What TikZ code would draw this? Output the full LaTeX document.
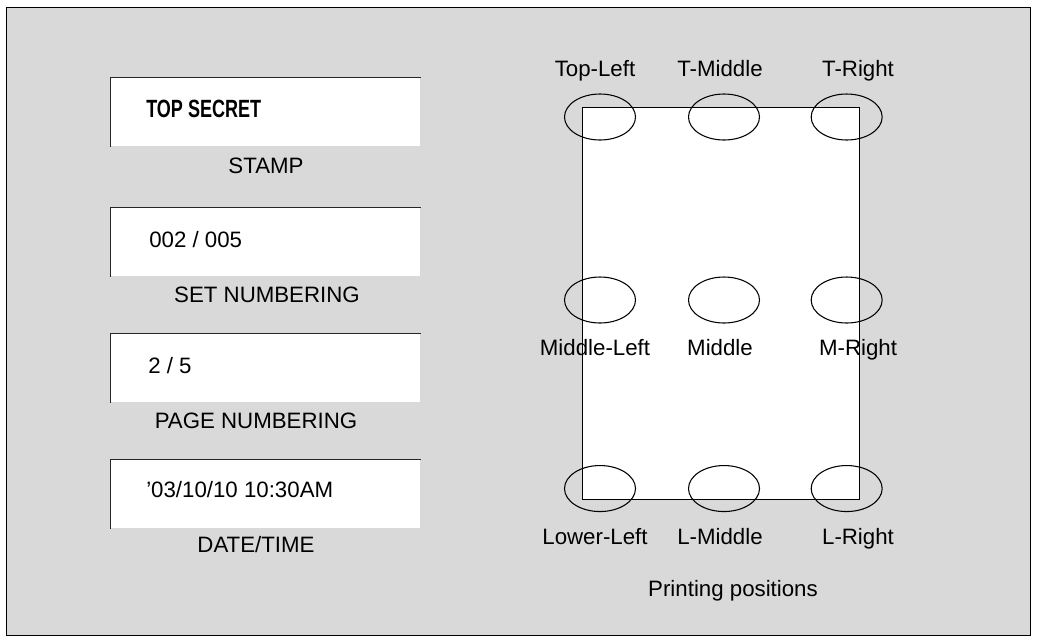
\documentclass[tikz,border=0pt]{standalone}
\usepackage{fontspec}
\setmainfont{Liberation Sans}
\usetikzlibrary{shapes.geometric,positioning}
\definecolor{panel}{HTML}{D9D9D9}
\tikzset{
    frame/.style={
           rectangle,
           draw=black, line width=1pt,
           fill=panel,
           minimum width=768pt,
           minimum height=471pt,
           anchor=north west
           },
    paper/.style={
           rectangle,
           draw=black, line width=0.8pt,
           fill=white,
           minimum width=208pt,
           minimum height=294.25pt,
           anchor=north west
           },
    stampbox/.style={
           rectangle,
           fill=white,
           minimum width=232.5pt,
           minimum height=51.75pt,
           anchor=north west
           },
    edge/.style={
           draw=black!85, line width=0.75pt
           },
    spot/.style={
           ellipse,
           draw=black, line width=0.8pt,
           minimum width=53.25pt,
           minimum height=34.5pt,
           inner sep=0pt
           },
    lbl/.style={
           font=\fontsize{16.7}{19}\selectfont,
           text height=10pt,
           text depth=3pt,
           inner sep=0pt
           },
    sample/.style={
           lbl,
           anchor=west
           }
}

\begin{document}
\begin{tikzpicture}[x=0.75pt,y=-0.75pt,node distance=93pt,on grid]
   \useasboundingbox (0,0) rectangle (1037,637);
   \node[frame] (f) at (6,7) {};
   \node[paper] (p) at (582,107) {};

   % left column
   \node[stampbox] (s1) at (110,77)  {};
   \node[stampbox] (s2) at (110,207) {};
   \node[stampbox] (s3) at (110,333) {};
   \node[stampbox] (s4) at (110,459) {};
   \draw[edge] (s1.south west) -- (s1.north west) -- (s1.north east);
   \draw[edge] (s2.south west) -- (s2.north west) -- (s2.north east);
   \draw[edge] (s3.south west) -- (s3.north west) -- (s3.north east);
   \draw[edge] (s4.south west) -- (s4.north west) -- (s4.north east);
   \node[sample] (t1) at (146,113) {\scalebox{0.81}[1.12]{\bfseries TOP SECRET}};
   \node[sample] (t2) at (149,243) {002 / 005};
   \node[sample] (t3) at (148,369) {2 / 5};
   \node[sample] (t4) at (146,493) {'03/10/10 10:30AM};
   \node[lbl] (l1) at (266,169) {STAMP};
   \node[lbl] (l2) at (267,298) {SET NUMBERING};
   \node[lbl] (l3) at (256,424) {PAGE NUMBERING};
   \node[lbl] (l4) at (256,548) {DATE/TIME};

   % printing spots
   \node[spot] (a) at (600,117) {};
   \node[spot] (b) [right=93pt of a] {};
   \node[spot] (c) [right=92pt of b] {};
   \node[spot] (d) [below=137.25pt of a] {};
   \node[spot] (e) [right=93pt of d] {};
   \node[spot] (g) [right=92pt of e] {};
   \node[spot] (h) [below=141.4pt of d] {};
   \node[spot] (i) [right=93pt of h] {};
   \node[spot] (j) [right=92pt of i] {};

   \node[lbl] (la) at (595,72)  {Top-Left};
   \node[lbl] (lb) at (720,72)  {T-Middle};
   \node[lbl] (lc) at (858,72)  {T-Right};
   \node[lbl] (ld) at (595,351) {Middle-Left};
   \node[lbl] (le) at (720,351) {Middle};
   \node[lbl] (lg) at (858,351) {M-Right};
   \node[lbl] (lh) at (595,540) {Lower-Left};
   \node[lbl] (li) at (720,540) {L-Middle};
   \node[lbl] (lj) at (858,540) {L-Right};
   \node[lbl] (lk) at (733,592) {Printing positions};
\end{tikzpicture}
\end{document}
